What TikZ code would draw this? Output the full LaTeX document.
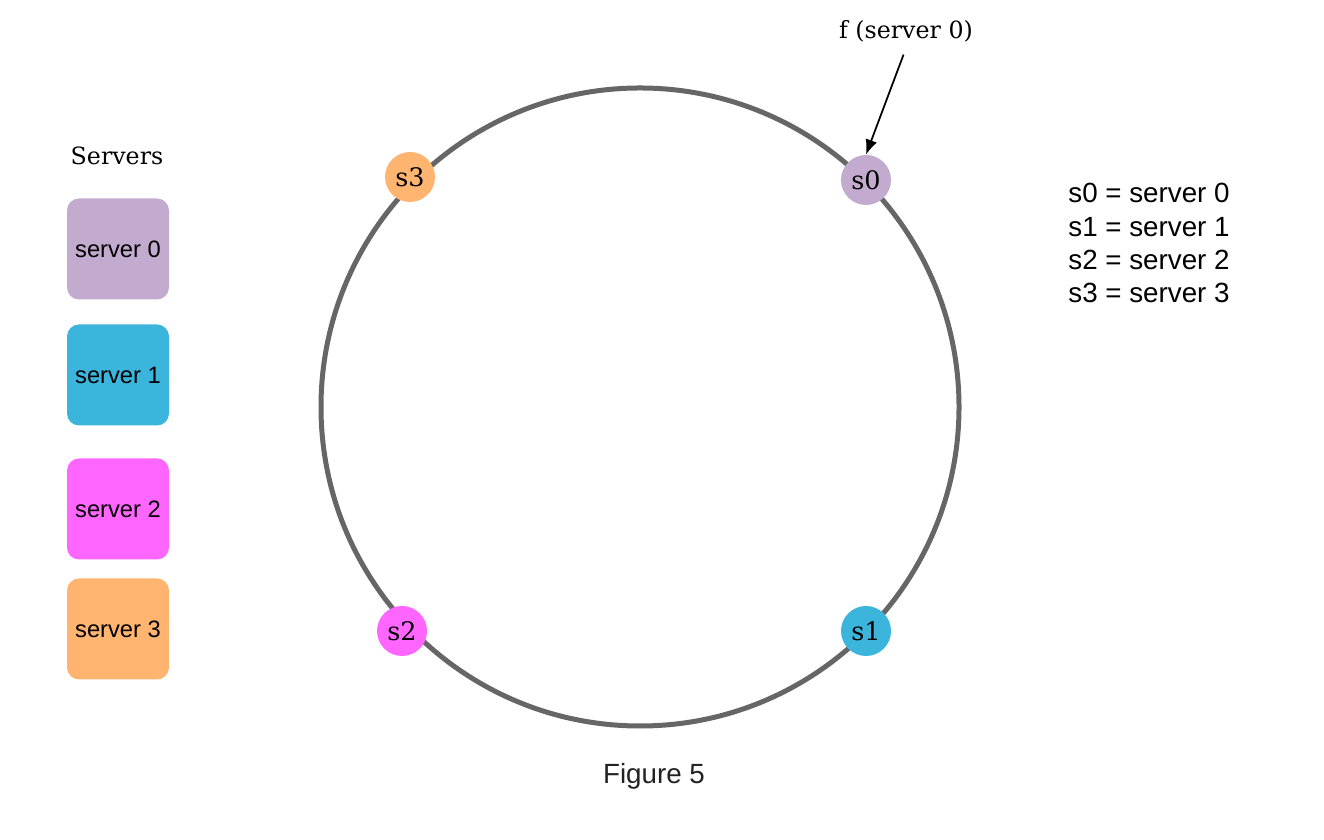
\documentclass[tikz,border=0pt]{standalone}
\usepackage{fontspec}
\setsansfont{Liberation Sans}
\newfontfamily\ringserif{DejaVu Serif}
\usepackage{tikz}
\usetikzlibrary{arrows.meta,positioning,calc}
\definecolor{srvZero}{HTML}{C3ABD0}
\definecolor{srvOne}{HTML}{3BB5DC}
\definecolor{srvTwo}{HTML}{FF66FF}
\definecolor{srvThree}{HTML}{FFB570}
\definecolor{ringC}{HTML}{666666}
\definecolor{capC}{HTML}{222222}
\tikzset{
  srvbox/.style={rectangle, rounded corners=2.4mm, fill=#1, minimum width=2.04cm, minimum height=2.02cm,
                 font=\sffamily\fontsize{13.5}{16}\selectfont},
  srvdot/.style={circle, fill=#1, minimum size=1cm, inner sep=0pt, font=\ringserif\fontsize{14.5}{16}\selectfont},
  ring/.style={circle, draw=ringC, line width=1mm, outer sep=0pt, minimum size=12.76cm},
  arr/.style={-{Latex[length=3mm,width=2.4mm]}, line width=0.35mm},
  serlabel/.style={font=\ringserif\fontsize{13.5}{16}\selectfont},
}
\begin{document}
\begin{tikzpicture}[x=0.2mm, y=0.2mm]
    \useasboundingbox (0,0) rectangle (1324,840);
    % hash ring
    \node[ring] (ring) at (640,433) {};
    \node[srvdot=srvZero] (s0) at (866,660) {s0};
    \node[srvdot=srvOne] (s1) at (866,209) {s1};
    \node[srvdot=srvTwo] (s2) at (402,209) {s2};
    \node[srvdot=srvThree] (s3) at (410,663) {s3};
    \node[serlabel] (flabel) at (906,809) {f (server 0)};
    \draw[arr, shorten <=1.4mm] (flabel.south) -- (s0.north);
    % servers column
    \node[serlabel] (title) at (117,684) {Servers};
    \node[srvbox=srvZero] (b0) at (118,591) {server 0};
    \node[srvbox=srvOne] (b1) at (118,465) {server 1};
    \node[srvbox=srvTwo] (b2) at (118,331) {server 2};
    \node[srvbox=srvThree] (b3) at (118,211) {server 3};
    % legend
    \node[anchor=west, align=left, inner sep=0pt, font=\sffamily\fontsize{15.8}{18.8}\selectfont] (legend) at (1068,597)
      {s0 = server 0\\s1 = server 1\\s2 = server 2\\s3 = server 3};
    \node[text=capC, font=\sffamily\fontsize{15.8}{18}\selectfont] (caption) at (654,64) {Figure 5};
  \end{tikzpicture}
\end{document}
